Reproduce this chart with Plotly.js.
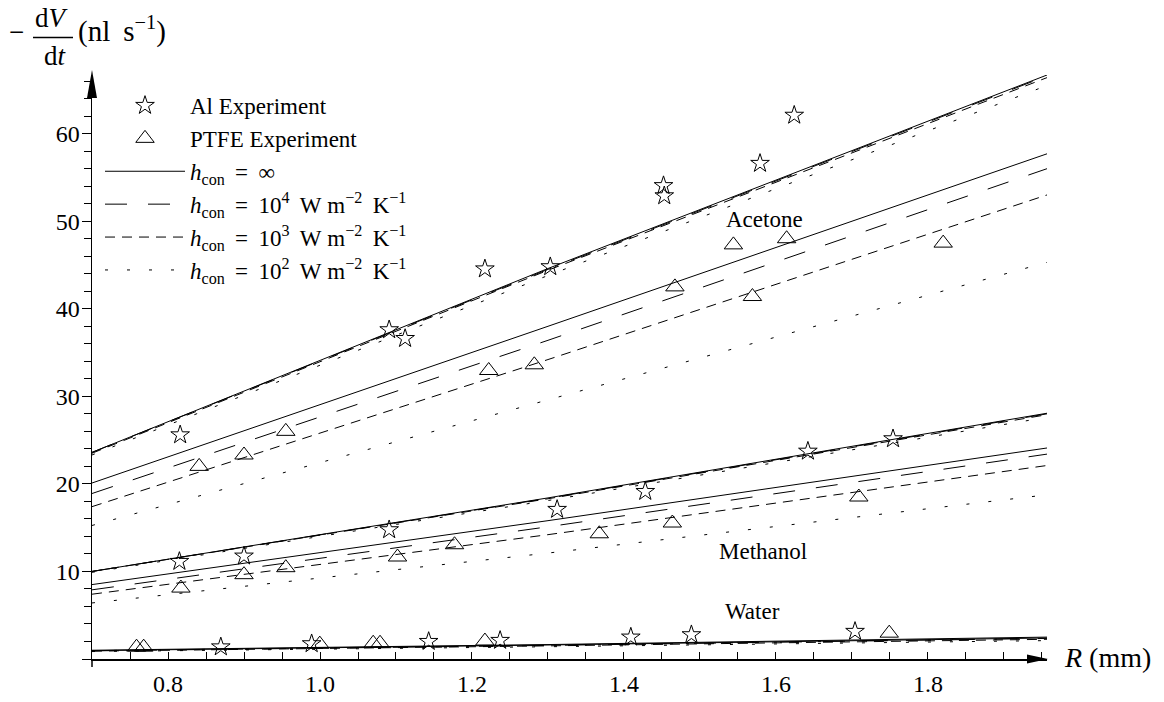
<!DOCTYPE html>
<html><head><meta charset="utf-8">
<script src="https://cdn.plot.ly/plotly-3.0.1.min.js"></script>
<style>body{margin:0;background:#fff}#chart{width:1164px;height:702px}</style>
</head><body><div id="chart"></div>
<script>
// ---- model curves (R in mm, rate in nl/s) ----
const lineR = [0.7, 1.3, 1.9566];
const acetoneAlInf = [23.6, 44.6, 66.7];
const acetoneAl1e4 = [23.6, 44.5, 66.6];
const acetoneAl1e3 = [23.5, 44.4, 66.4];
const acetoneAl1e2 = [23.3, 43.8, 65.5];
const acetonePtfeInf = [20.1, 38.0, 57.7];
const acetonePtfe1e4 = [18.9, 36.4, 56.0];
const acetonePtfe1e3 = [17.4, 34.2, 53.0];
const acetonePtfe1e2 = [15.25, 29.6, 45.3];
const methanolAlInf = [10.0, 18.4, 28.07];
const methanolAl1e4 = [10.0, 18.35, 28.0];
const methanolAl1e3 = [10.0, 18.3, 27.9];
const methanolAl1e2 = [9.9, 18.1, 27.6];
const methanolPtfeInf = [8.5, 15.8, 24.1];
const methanolPtfe1e4 = [7.9, 15.1, 23.4];
const methanolPtfe1e3 = [7.4, 14.2, 22.1];
const methanolPtfe1e2 = [6.4, 12.1, 18.75];
const waterAlInf = [1.0, 1.65, 2.5];
const waterAl1e2 = [0.95, 1.55, 2.35];
const waterPtfeInf = [0.95, 1.6, 2.4];
const waterPtfe1e4 = [0.93, 1.55, 2.35];
const waterPtfe1e3 = [0.9, 1.5, 2.25];
const waterPtfe1e2 = [0.85, 1.4, 2.1];

// ---- experiments ----
const alAcetoneR = [0.816, 1.091, 1.112, 1.217, 1.303, 1.452, 1.453, 1.579, 1.624];
const alAcetoneRate = [25.6, 37.6, 36.6, 44.55, 44.8, 54.06, 52.9, 56.6, 62.1];
const alMethanolR = [0.815, 0.9, 1.091, 1.312, 1.428, 1.642, 1.754];
const alMethanolRate = [11.14, 11.75, 14.76, 17.08, 19.13, 23.73, 25.15];
const alWaterR = [0.8695, 0.989, 1.143, 1.237, 1.409, 1.4887, 1.704];
const alWaterRate = [1.38, 1.74, 2.0, 2.12, 2.5, 2.77, 3.15];
const ptfeAcetoneR = [0.841, 0.9, 0.955, 1.222, 1.282, 1.467, 1.544, 1.569, 1.614, 1.820];
const ptfeAcetoneRate = [22.0, 23.3, 26.0, 32.95, 33.6, 42.5, 47.3, 41.4, 48.0, 47.5];
const ptfeMethanolR = [0.817, 0.9, 0.955, 1.102, 1.177, 1.3675, 1.4636, 1.709];
const ptfeMethanolRate = [8.1, 9.63, 10.43, 11.65, 13.05, 14.3, 15.53, 18.5];
const ptfeWaterR = [0.7586, 0.768, 0.9997, 1.07, 1.079, 1.217, 1.749];
const ptfeWaterRate = [1.35, 1.35, 1.7, 1.8, 1.8, 2.05, 2.95];

const xTicks = [0.8, 1.0, 1.2, 1.4, 1.6, 1.8];
const xTickText = ['0.8', '1.0', '1.2', '1.4', '1.6', '1.8'];
const yTicks = [0, 10, 20, 30, 40, 50, 60];
const yTickText = ['', '10', '20', '30', '40', '50', '60'];

const NB = '\u00A0', TH = '\u2009';
const unitText = NB + TH + 'W' + NB + 'm<sup>−2</sup>' + NB + TH + 'K<sup>−1</sup>';
const eq = NB + TH + '=' + NB + TH;
const legendNames = {
  al: 'Al Experiment',
  ptfe: 'PTFE Experiment',
  inf: '<i>h</i><sub>con</sub>' + eq + '∞',
  e4: '<i>h</i><sub>con</sub>' + eq + '10<sup>4</sup>' + unitText,
  e3: '<i>h</i><sub>con</sub>' + eq + '10<sup>3</sup>' + unitText,
  e2: '<i>h</i><sub>con</sub>' + eq + '10<sup>2</sup>' + unitText
};

const FONT = 'Liberation Serif, Times New Roman, serif';
const dashes = { inf: 'solid', e4: '22px,21px', e3: '10px,7px', e2: '3px,19px' };
const ranks = { al: 1, ptfe: 2, inf: 3, e4: 4, e3: 5, e2: 6 };

const lineSets = [
  ['inf', [acetoneAlInf, acetonePtfeInf, methanolAlInf, methanolPtfeInf, waterAlInf, waterPtfeInf]],
  ['e4', [acetoneAl1e4, acetonePtfe1e4, methanolAl1e4, methanolPtfe1e4, waterPtfe1e4]],
  ['e3', [acetoneAl1e3, acetonePtfe1e3, methanolAl1e3, methanolPtfe1e3, waterPtfe1e3]],
  ['e2', [acetoneAl1e2, acetonePtfe1e2, methanolAl1e2, methanolPtfe1e2, waterAl1e2, waterPtfe1e2]]
];

const traces = [];
lineSets.forEach(([key, arrs]) => {
  arrs.forEach((ys, i) => {
    traces.push({
      x: lineR, y: ys, type: 'scatter', mode: 'lines',
      line: { color: 'black', width: 1, dash: dashes[key] },
      name: legendNames[key], legendgroup: key, showlegend: i === 0,
      legendrank: ranks[key], hoverinfo: 'skip'
    });
  });
});
const markerSets = [
  ['al', 'star-open', 14, [[alAcetoneR, alAcetoneRate], [alMethanolR, alMethanolRate], [alWaterR, alWaterRate]]],
  ['ptfe', 'triangle-up-open', 16, [[ptfeAcetoneR, ptfeAcetoneRate], [ptfeMethanolR, ptfeMethanolRate], [ptfeWaterR, ptfeWaterRate]]]
];
markerSets.forEach(([key, sym, sz, sets]) => {
  sets.forEach(([xs, ys], i) => {
    traces.push({
      x: xs, y: ys, type: 'scatter', mode: 'markers',
      marker: { symbol: sym, size: sz, color: 'black', line: { color: 'black', width: 1 } },
      name: legendNames[key], legendgroup: key, showlegend: i === 0, legendrank: ranks[key]
    });
  });
});

// pixel helpers for layout placement
const L = 92, T = 75, W = 955, H = 584;
const px = v => (v - L) / W;
const py = v => (T + H - v) / H;

const txt = (x, y, text, size, extra) => Object.assign({
  xref: 'paper', yref: 'paper', x: px(x), y: py(y), text: text, showarrow: false,
  xanchor: 'center', yanchor: 'middle', font: { family: FONT, size: size, color: 'black' }
}, extra || {});

// x tick labels placed at the tick values, just under the axis
const xTickLabels = xTicks.map((v, i) => ({
  xref: 'x', yref: 'paper', x: v, y: py(684), text: xTickText[i], showarrow: false,
  xanchor: 'center', yanchor: 'middle', font: { family: FONT, size: 24, color: 'black' }
}));

const layout = {
  width: 1164, height: 702,
  margin: { l: L, r: 1164 - L - W, t: T, b: 702 - T - H },
  paper_bgcolor: 'white', plot_bgcolor: 'white',
  font: { family: FONT, size: 23, color: 'black' },
  showlegend: true,
  legend: {
    x: px(100), y: py(84), xanchor: 'left', yanchor: 'top',
    bgcolor: 'rgba(0,0,0,0)', itemwidth: 80, traceorder: 'normal',
    font: { family: FONT, size: 23, color: 'black' }, tracegroupgap: 0
  },
  xaxis: {
    range: [0.7, 1.9566], showgrid: false, zeroline: false,
    showline: true, linecolor: 'black', linewidth: 1.5,
    tickmode: 'array', tickvals: xTicks, ticktext: xTickText, showticklabels: false,
    ticks: 'inside', ticklen: 7, tickwidth: 1, tickcolor: 'black',
    minor: { tickmode: 'linear', tick0: 0.7, dtick: 0.05, ticks: 'inside', ticklen: 7, tickwidth: 1, tickcolor: 'black' }
  },
  yaxis: {
    range: [0, 66.7], showgrid: false, zeroline: false,
    showline: true, linecolor: 'black', linewidth: 1.5,
    tickmode: 'array', tickvals: yTicks, ticktext: yTickText,
    ticks: 'outside', ticklen: 9, tickwidth: 1, tickcolor: 'black',
    minor: { tickmode: 'linear', tick0: 0, dtick: 2, ticks: 'outside', ticklen: 7, tickwidth: 1, tickcolor: 'black' },
    tickfont: { family: FONT, size: 24, color: 'black' }, ticklabelstandoff: -3
  },
  shapes: [
    { type: 'path', xref: 'paper', yref: 'paper', xsizemode: 'pixel', ysizemode: 'pixel', xanchor: 1, yanchor: 0,
      path: 'M1,0 L-20,4.5 L-20,-4.5 Z', fillcolor: 'black', line: { width: 0 } },
    { type: 'path', xref: 'paper', yref: 'paper', xsizemode: 'pixel', ysizemode: 'pixel', xanchor: 0, yanchor: 1,
      path: 'M0,5 L-5,-23 L5,-23 Z', fillcolor: 'black', line: { width: 0 } },
    { type: 'line', xref: 'paper', yref: 'paper', ysizemode: 'pixel', yanchor: 0, x0: 0, x1: 0, y0: 0, y1: -8,
      line: { color: 'black', width: 1.5 } },
    { type: 'line', xref: 'paper', yref: 'paper', x0: px(33), x1: px(73), y0: py(37.5), y1: py(37.5),
      line: { color: 'black', width: 1.5 } }
  ],
  annotations: [
    txt(16.5, 32, '−', 27),
    txt(52, 18, 'd<i>V</i>', 27),
    txt(55, 56, 'd<i>t</i>', 27),
    txt(76, 30, '(nl' + NB + TH + 's<sup>−1</sup>)', 29, { xanchor: 'left' }),
    txt(1107, 657, '<i>R</i>' + NB + '(mm)', 28),
    txt(764, 219, 'Acetone', 23),
    txt(763, 551, 'Methanol', 23),
    txt(752, 611, 'Water', 23)
  ].concat(xTickLabels)
};

Plotly.newPlot('chart', traces, layout, { staticPlot: true, displayModeBar: false });
</script>
</body></html>
